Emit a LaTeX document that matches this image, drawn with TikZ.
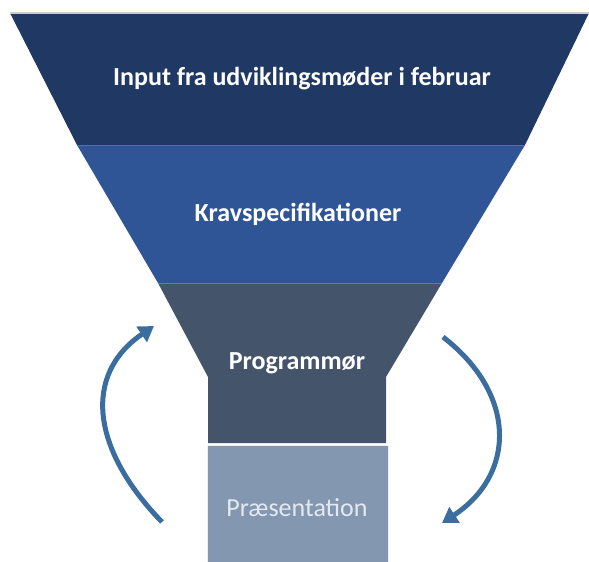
\documentclass[tikz,border=0pt]{standalone}
\usepackage{fontspec}
\setmainfont{Carlito}
\usetikzlibrary{arrows.meta}
\definecolor{bandA}{HTML}{203864}
\definecolor{bandB}{HTML}{2F5597}
\definecolor{bandC}{HTML}{44546A}
\definecolor{bandD}{HTML}{8497B0}
\definecolor{loopblue}{HTML}{3B6E9E}
\definecolor{lighttext}{HTML}{E4E9F1}
\begin{document}
\begin{tikzpicture}[x=1pt,y=-1pt,
  bandtext/.style={text=white,font=\bfseries\fontsize{26}{30}\selectfont},
  looparrow/.style={draw=loopblue,line width=5pt,-{Triangle[length=15pt,width=18pt]}}]
% Parameters
\def\topY{13};
\def\midA{145};
\def\midB{283};
\def\neckY{377};
\def\baseY{443};
\useasboundingbox (0,0) rectangle (589,562);

% Funnel bands
\fill [color=bandA] (10,\topY) -- (589,\topY) -- (525,\midA) -- (77,\midA) -- cycle;
\draw [color=gray!40,line width=1.5pt] (10,\topY) -- (589,\topY);
\fill [color=bandB] (77,\midA) -- (525,\midA) -- (442,\midB) -- (158,\midB) -- cycle;
\draw [color=bandB!70!cyan,line width=1pt] (77,\midA) -- (525,\midA);
\fill [color=bandC] (158,\midB) -- (442,\midB) -- (386,\neckY) -- (386,\baseY) -- (208,\baseY) -- (208,\neckY) -- cycle;
\draw [color=bandB!60!cyan,line width=1pt] (158,\midB) -- (442,\midB);
\fill [color=bandD] (207,445) rectangle (388,562);
\draw [color=white!85!bandD,line width=0.8pt] (207,562) -- (207,445) -- (388,445) -- (388,562);

% Labels
\node[bandtext] (input) at (302,79) {Input fra udviklingsmøder i februar};
\node[bandtext] (krav) at (298,214) {Kravspecifikationer};
\node[bandtext] (prog) at (297,363) {Programmør};
\node[text=lighttext,font=\fontsize{26}{30}\selectfont] (praes) at (297,508) {Præsentation};

% Loop arrows
\coordinate (upStart) at (162,522);
\coordinate (upEnd) at (154,326);
\coordinate (downStart) at (443,337);
\coordinate (downEnd) at (442,523);
\draw[looparrow] (upStart) .. controls (92,450) and (82,375) .. (upEnd);
\draw[looparrow] (downStart) .. controls (518,395) and (515,475) .. (downEnd);
\end{tikzpicture}
\end{document}
